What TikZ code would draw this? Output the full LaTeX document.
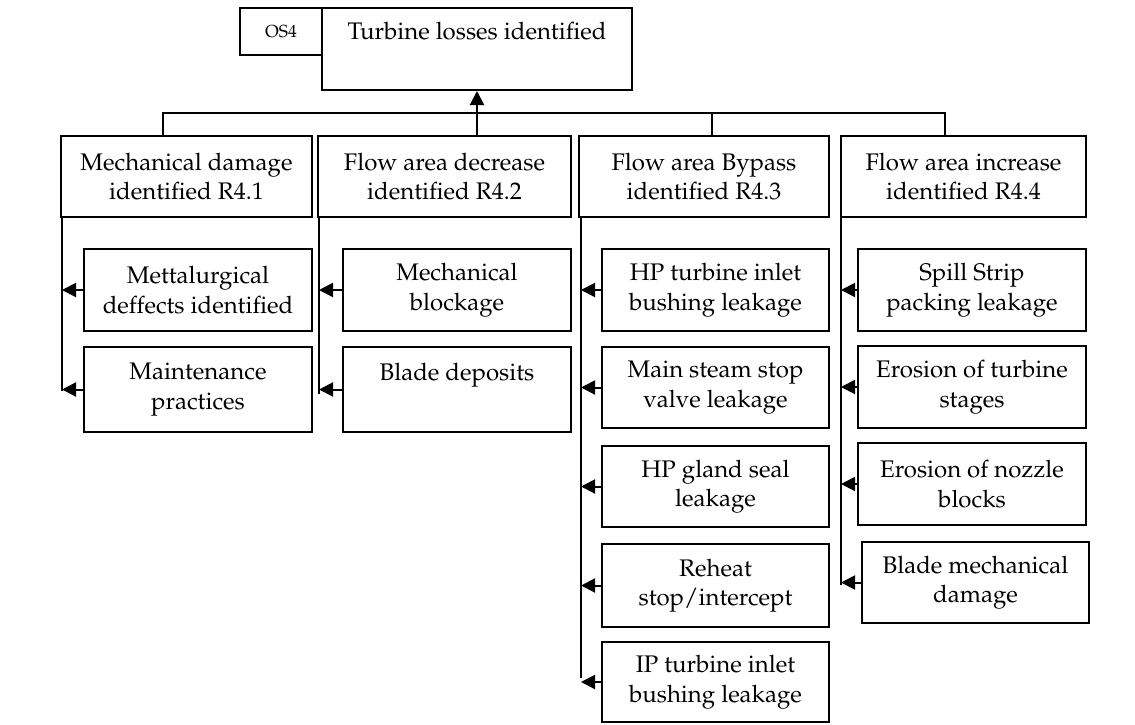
\documentclass[tikz,border=0pt]{standalone}
\usepackage[T1]{fontenc}
\renewcommand{\rmdefault}{ppl}
\usetikzlibrary{arrows.meta}
\begin{document}
\begin{tikzpicture}[x=1pt,y=-1pt,
  box/.style={draw=black,line width=2pt,inner sep=0pt,align=center,
    font=\fontsize{24}{29.5}\selectfont},
  conn/.style={line width=2pt},
  arr/.style={line width=2pt,-{Triangle[length=14pt,width=14pt]}}]
\useasboundingbox (0,0) rectangle (1135,724);
% top
\node[box,minimum width=82pt,minimum height=47pt,font=\fontsize{17.5}{20}\selectfont] (os) at (281,31.5) {OS4};
\node[box,minimum width=310pt,minimum height=82pt] (top) at (477,49) {Turbine losses identified\\\phantom{p}};
% level 2
\node[box,minimum width=251pt,minimum height=81pt] (b1) at (186.5,176.5) {Mechanical damage\\identified R4.1};
\node[box,minimum width=253pt,minimum height=81pt] (b2) at (444.5,176.5) {Flow area decrease\\identified R4.2};
\node[box,minimum width=250pt,minimum height=81pt] (b3) at (704,176.5) {Flow area Bypass\\identified R4.3};
\node[box,minimum width=245pt,minimum height=81pt] (b4) at (963.5,176.5) {Flow area increase\\identified R4.4};
% column 1
\node[box,minimum width=228pt,minimum height=82pt] (s11) at (198,290) {Mettalurgical\\deffects identified};
\node[box,minimum width=228pt,minimum height=85pt] (s12) at (198,389.5) {Maintenance\\practices};
% column 2
\node[box,minimum width=228pt,minimum height=82pt] (s21) at (457,290) {Mechanical\\blockage};
\node[box,minimum width=228pt,minimum height=85pt] (s22) at (457,389.5) {Blade deposits\\\phantom{p}};
% column 3
\node[box,minimum width=227pt,minimum height=82pt] (s31) at (715.5,290) {HP turbine inlet\\bushing leakage};
\node[box,minimum width=227pt,minimum height=81pt] (s32) at (715.5,387.5) {Main steam stop\\valve leakage};
\node[box,minimum width=227pt,minimum height=81pt] (s33) at (715.5,486.5) {HP gland seal\\leakage};
\node[box,minimum width=227pt,minimum height=83pt] (s34) at (715.5,585.5) {Reheat\\stop/intercept};
\node[box,minimum width=227pt,minimum height=80pt] (s35) at (715.5,682) {IP turbine inlet\\bushing leakage};
% column 4
\node[box,minimum width=228pt,minimum height=82pt] (s41) at (972,290) {Spill Strip\\packing leakage};
\node[box,minimum width=228pt,minimum height=82pt] (s42) at (972,387) {Erosion of turbine\\stages};
\node[box,minimum width=228pt,minimum height=82pt] (s43) at (972,484) {Erosion of nozzle\\blocks};
\node[box,minimum width=227pt,minimum height=81pt] (s44) at (975.5,582.5) {Blade mechanical\\damage};
% top connectors
\coordinate (h1) at (163,113);
\coordinate (h3) at (712,113);
\coordinate (h4) at (945,113);
\draw[conn] (b1.north -| h1) -- (h1) -- (h4) -- (b4.north -| h4);
\draw[conn] (b3.north -| h3) -- (h3);
\draw[arr] (b2.north -| top.south) -- (top.south);
% spines
\coordinate (v1) at (62,391);
\coordinate (v2) at (319,394);
\coordinate (v3) at (581,678);
\coordinate (v4) at (841,585);
\draw[conn] (b1.south -| v1) -- (v1);
\draw[conn] (b2.south -| v2) -- (v2);
\draw[conn] (b3.south -| v3) -- (v3);
\draw[conn] (b4.south -| v4) -- (v4);
% arrows
\draw[arr] (s11.west) -- (s11.west -| v1);
\draw[arr] (s12.west) -- (s12.west -| v1);
\draw[arr] (s21.west) -- (s21.west -| v2);
\draw[arr] (s22.west) -- (s22.west -| v2);
\foreach \n in {s31,s32,s33,s34,s35} \draw[arr] (\n.west) -- (\n.west -| v3);
\foreach \n in {s41,s42,s43,s44} \draw[arr] (\n.west) -- (\n.west -| v4);
\end{tikzpicture}
\end{document}
